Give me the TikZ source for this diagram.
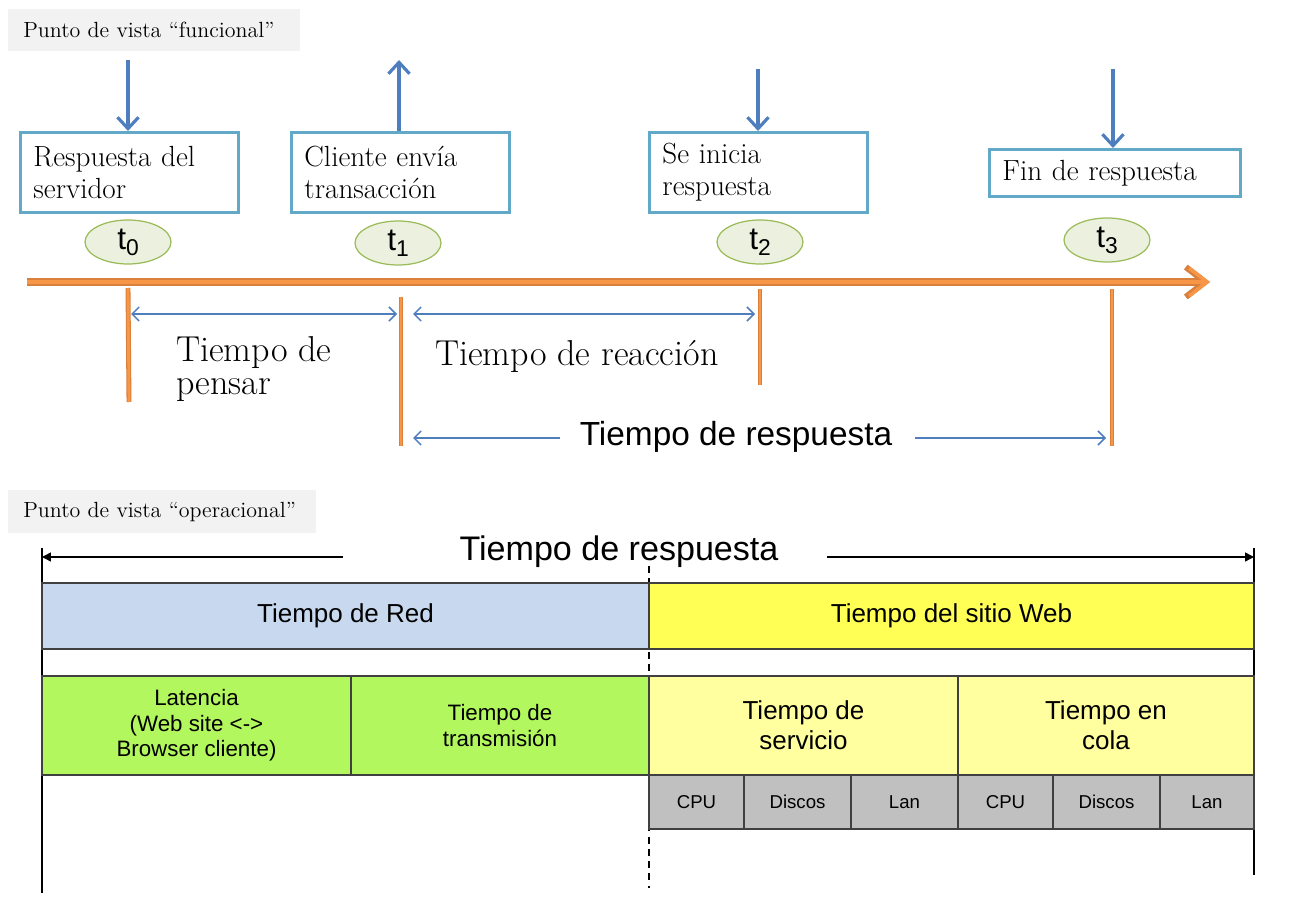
\documentclass[tikz,border=0pt]{standalone}
\usepackage{fontspec}
\setsansfont{Liberation Sans}
\usetikzlibrary{arrows.meta,shapes.geometric}
\definecolor{boxedge}{HTML}{62A9C8}
\definecolor{arrblue}{HTML}{4F7EBF}
\definecolor{axisor}{HTML}{F79646}
\definecolor{axisedge}{HTML}{D9803C}
\definecolor{elfill}{HTML}{EBF1DE}
\definecolor{eledge}{HTML}{9BBB59}
\definecolor{hdrgray}{HTML}{F2F2F2}
\definecolor{redblue}{HTML}{C8D9EF}
\definecolor{webyel}{HTML}{FFFF55}
\definecolor{grn}{HTML}{B3F75E}
\definecolor{ltyel}{HTML}{FFFFA0}
\definecolor{cellgray}{HTML}{C0C0C0}
\definecolor{celledge}{HTML}{404040}
\tikzset{
  hdr/.style={fill=hdrgray, draw=none, anchor=north west, align=left, inner xsep=0.3cm, inner ysep=0pt, font=\fontsize{12.5}{14}\selectfont},
  evbox/.style={draw=boxedge, line width=1.7pt, fill=white, anchor=north west, align=left, inner xsep=0.26cm, inner ysep=0pt, font=\fontsize{16.6}{18.2}\selectfont},
  tel/.style={ellipse, draw=eledge, fill=elfill, line width=0.7pt, minimum width=1.72cm, minimum height=0.88cm, inner sep=0pt, font=\sffamily\fontsize{18}{20}\selectfont},
  barrow/.style={draw=arrblue, line width=1.8pt, -{Straight Barb[length=6.5pt,width=12pt]}},
  tick/.style={draw=axisedge, line width=2.8pt},
  tickin/.style={draw=axisor, line width=1.6pt},
  thinarrow/.style={draw=arrblue, line width=0.9pt, {Straight Barb[length=4pt,width=8pt]}-{Straight Barb[length=4pt,width=8pt]}},
  thinone/.style={draw=arrblue, line width=0.9pt, -{Straight Barb[length=4pt,width=8pt]}},
  lbl/.style={align=left, font=\fontsize{20.5}{20}\selectfont},
  bigsans/.style={font=\sffamily\fontsize{19}{22}\selectfont},
  cell/.style={draw=celledge, line width=0.9pt, inner sep=0pt, align=center, font=\sffamily\fontsize{14.8}{17}\selectfont},
  blackarrow/.style={draw=black, line width=0.8pt, -{Triangle[length=5pt,width=5pt]}},
  vline/.style={draw=black, line width=0.6pt}
}
\newcommand{\tsub}[1]{t\raisebox{-0.35ex}{\fontsize{13}{14}\selectfont #1}}
\begin{document}
\begin{tikzpicture}[x=0.02cm, y=-0.02cm]
\useasboundingbox (0,0) rectangle (1306,902);

% ---------- Functional view ----------
\node[hdr, minimum width=5.84cm, minimum height=0.84cm, text width=5.24cm] (h1) at (8,9) {Punto de vista “funcional”};

\node[evbox, minimum width=4.36cm, minimum height=1.6cm, text width=3.84cm] (b0) at (19,131) {Respuesta del\\servidor};
\node[evbox, minimum width=4.36cm, minimum height=1.6cm, text width=3.84cm] (b1) at (290,131) {Cliente envía\\transacción};
\node[evbox, minimum width=4.36cm, minimum height=1.6cm, text width=3.84cm] (b2) at (648,131) {Se inicia\\respuesta};
\node[evbox, minimum width=5.02cm, minimum height=0.94cm, text width=4.5cm] (b3) at (988,148) {Fin de respuesta};

\coordinate (a0) at (128,60);
\coordinate (a1) at (399,60);
\coordinate (a2) at (758,69);
\coordinate (a3) at (1113,69);
\draw[barrow] (a0) -- (a0 |- b0.north);
\draw[barrow] (a1 |- b1.north) -- (a1);
\draw[barrow] (a2) -- (a2 |- b2.north);
\draw[barrow] (a3) -- (a3 |- b3.north);

\node[tel] (t0) at (128,242) {\tsub{0}};
\node[tel] (t1) at (398,243) {\tsub{1}};
\node[tel] (t2) at (760,242) {\tsub{2}};
\node[tel] (t3) at (1107,240) {\tsub{3}};

% axis
\coordinate (ax0) at (27,282);
\coordinate (ax1) at (1210,282);
\draw[draw=axisedge, line width=4.2pt, -{Straight Barb[length=11pt,width=17pt,line width=3.4pt]}] (ax0) -- (ax1);
\draw[draw=axisor, line width=2.6pt, -{Straight Barb[length=10.2pt,width=15.8pt,line width=2pt]}] (ax0) -- (ax1);

% ticks
\coordinate (k0t) at (128,288); \coordinate (k0b) at (129,402);
\coordinate (k1t) at (401,297); \coordinate (k1b) at (401,446);
\coordinate (k2t) at (760,289); \coordinate (k2b) at (760,385);
\coordinate (k3t) at (1112,289); \coordinate (k3b) at (1112,446);
\foreach \k in {0,1,2,3}{
  \draw[tick] (k\k t) -- (k\k b);
  \draw[tickin] (k\k t) -- (k\k b);
}

% intervals
\coordinate (d0a) at (131,314); \coordinate (d0b) at (397,314);
\coordinate (d1a) at (413,314); \coordinate (d1b) at (755,314);
\draw[thinarrow] (d0a) -- (d0b);
\draw[thinarrow] (d1a) -- (d1b);

\node[lbl, anchor=north west] (lp) at (170,330) {Tiempo de\\[-1pt]pensar};
\node[lbl, anchor=west] (lr) at (429,356) {Tiempo de reacción};

\node[bigsans] (tresp) at (736,437) {Tiempo de respuesta};
\coordinate (r0a) at (560,438); \coordinate (r0b) at (413,438);
\coordinate (r1a) at (915,438); \coordinate (r1b) at (1106,438);
\draw[thinone] (r0a) -- (r0b);
\draw[thinone] (r1a) -- (r1b);

% ---------- Operational view ----------
\node[hdr, minimum width=6.16cm, minimum height=0.86cm, text width=5.56cm] (h2) at (8,490) {Punto de vista “operacional”};

\coordinate (vl0) at (42,548); \coordinate (vl1) at (42,893);
\coordinate (vr0) at (1254,548); \coordinate (vr1) at (1254,875);
\coordinate (vd0) at (649,566); \coordinate (vd1) at (649,888);
\draw[vline] (vl0) -- (vl1);
\draw[vline] (vr0) -- (vr1);
\draw[vline, dashed, dash pattern=on 4pt off 3pt] (vd0) -- (vd1);

\node[font=\sffamily\fontsize{19.4}{22}\selectfont] (tresp2) at (619,552) {Tiempo de respuesta};
\coordinate (ba0) at (343,557); \coordinate (ba1) at (42,557);
\coordinate (bb0) at (827,557); \coordinate (bb1) at (1254,557);
\draw[blackarrow] (ba0) -- (ba1);
\draw[blackarrow] (bb0) -- (bb1);

% row 1
\node[cell, fill=redblue, minimum width=12.14cm, minimum height=1.32cm] (red) at (345.5,616) {Tiempo de Red};
\node[cell, fill=webyel, minimum width=12.1cm, minimum height=1.32cm] (web) at (951.5,616) {Tiempo del sitio Web};

% row 2
\node[cell, fill=grn, minimum width=6.18cm, minimum height=1.98cm, font=\sffamily\fontsize{12.7}{14.5}\selectfont] (lat) at (196.5,725.5) {Latencia\\(Web site <->\\Browser cliente)};
\node[cell, fill=grn, minimum width=5.96cm, minimum height=1.98cm, font=\sffamily\fontsize{12.7}{14.5}\selectfont] (trans) at (500,725.5) {Tiempo de\\transmisión};
\node[cell, fill=ltyel, minimum width=6.18cm, minimum height=1.98cm] (serv) at (803.5,725.5) {Tiempo de\\servicio};
\node[cell, fill=ltyel, minimum width=5.92cm, minimum height=1.98cm] (cola) at (1106,725.5) {Tiempo en\\cola};

% row 3
\tikzset{gcell/.style={cell, fill=cellgray, minimum height=1.08cm, font=\sffamily\fontsize{10.6}{12}\selectfont}}
\node[gcell, minimum width=1.9cm] (c1) at (696.5,802) {CPU};
\node[gcell, minimum width=2.14cm] (c2) at (797.5,802) {Discos};
\node[gcell, minimum width=2.14cm] (c3) at (904.5,802) {Lan};
\node[gcell, minimum width=1.9cm] (c4) at (1005.5,802) {CPU};
\node[gcell, minimum width=2.14cm] (c5) at (1106.5,802) {Discos};
\node[gcell, minimum width=1.88cm] (c6) at (1207,802) {Lan};
\end{tikzpicture}
\end{document}
